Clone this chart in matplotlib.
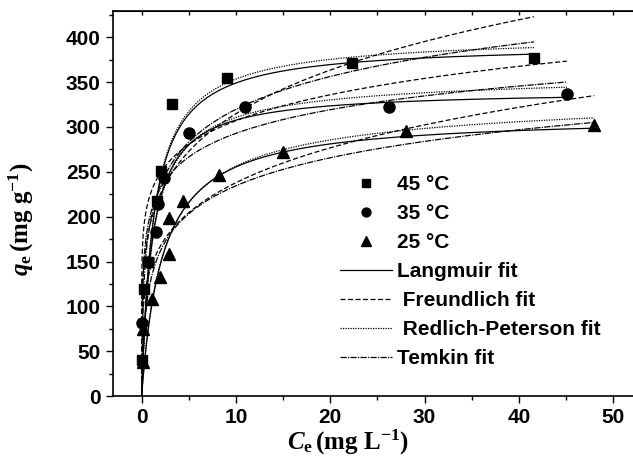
import numpy as np
import matplotlib
matplotlib.use("Agg")
import matplotlib.pyplot as plt
from matplotlib.ticker import MultipleLocator
from matplotlib.lines import Line2D

plt.rcParams["font.family"] = ["Liberation Sans", "DejaVu Sans"]
plt.rcParams["mathtext.fontset"] = "custom"
plt.rcParams["mathtext.rm"] = "Liberation Serif:bold"
plt.rcParams["mathtext.it"] = "Liberation Serif:italic:bold"
plt.rcParams["mathtext.bf"] = "Liberation Serif:bold"

# measured points (Ce, qe)
ce_45 = [0.05, 0.24, 0.7, 1.6, 2.05, 3.18, 9.1, 22.3, 41.6]
qe_45 = [40, 120, 150, 217, 251, 326, 355, 371, 377]
ce_35 = [0.05, 0.7, 1.5, 1.7, 2.4, 5.0, 11.0, 26.2, 45.1]
qe_35 = [82, 150, 183, 214, 243, 293, 322, 322, 337]
ce_25 = [0.1, 0.17, 1.06, 1.94, 2.9, 2.9, 4.4, 8.2, 15.0, 28.0, 48.0]
qe_25 = [38, 75, 108, 133, 159, 198, 217, 246, 272, 295, 302]

# fitted isotherm parameters, order 45, 35, 25 degC
lang_qm = [392.5, 341.0, 312.5]
lang_k = [0.80, 0.92, 0.447]
freu_kf = [195.4, 227.5, 144.0]
freu_inv_n = [0.207, 0.13, 0.218]
rp_k = [320.0, 310.0, 150.0]
rp_a = [0.815, 0.93, 0.52]
rp_g = [0.995, 0.985, 0.97]
tem_b = [52.7, 38.0, 45.0]
tem_a = [43.0, 222.0, 18.3]

SERIES = [(ce_45, qe_45, "s", 7, "45 °C"),
          (ce_35, qe_35, "o", 8, "35 °C"),
          (ce_25, qe_25, "^", 8.5, "25 °C")]
DASH = (0, (4, 2))
DOT = (0, (1, 1))
DASHDOT = (0, (5, 1, 1, 1))

fig = plt.figure(figsize=(6.33, 4.75), dpi=100)
ax = fig.add_axes([0.178, 0.1657, 0.86, 0.811])

for i, (ce, qe, mk, ms, lab) in enumerate(SERIES):
    xmax = max(ce)
    c = np.concatenate([[0.0], np.geomspace(1e-3, xmax, 500)])
    ql = lang_qm[i] * lang_k[i] * c / (1 + lang_k[i] * c)
    qf = freu_kf[i] * c ** freu_inv_n[i]
    qr = rp_k[i] * c / (1 + rp_a[i] * c ** rp_g[i])
    ct = np.geomspace(min(ce), xmax, 500)
    qt = tem_b[i] * np.log(tem_a[i] * ct)
    ax.plot(c, ql, color="black", lw=0.9, ls="-")
    ax.plot(c, qf, color="black", lw=0.9, ls=DASH)
    ax.plot(c, qr, color="black", lw=0.9, ls=DOT)
    ax.plot(ct, qt, color="black", lw=0.9, ls=DASHDOT)
    ax.plot(ce, qe, ls="none", marker=mk, ms=ms, color="black")

ax.set_xlim(-3.07, 54.66)
ax.set_ylim(0, 429)
ax.xaxis.set_major_locator(MultipleLocator(10))
ax.xaxis.set_minor_locator(MultipleLocator(5))
ax.yaxis.set_major_locator(MultipleLocator(50))
ax.yaxis.set_minor_locator(MultipleLocator(25))
ax.tick_params(which="both", direction="out", width=1.0, top=False, right=False)
ax.tick_params(which="major", length=5, labelsize=15)
ax.tick_params(which="minor", length=3)
for lab in ax.get_xticklabels() + ax.get_yticklabels():
    lab.set_fontweight("bold")
for sp in ax.spines.values():
    sp.set_linewidth(1.2)
ax.spines["right"].set_visible(False)   # frame runs off the right edge
# small inward ticks along the top edge
top = ax.secondary_xaxis("top")
top.set_xticks(np.arange(0, 55, 5), labels=[])
top.tick_params(direction="in", length=3, width=1.0)

ax.set_xlabel(r"$C_{\mathrm{e}}\,$(mg L$^{\mathrm{-1}}$)", fontsize=18,
              fontfamily="Liberation Serif", fontweight="bold")
ax.set_ylabel(r"$q_{\mathrm{e}}\,$(mg g$^{\mathrm{-1}}$)", fontsize=18,
              fontfamily="Liberation Serif", fontweight="bold")
ax.xaxis.set_label_coords(0.432, -0.082)
ax.yaxis.set_label_coords(-0.14, 0.46)

handles = [Line2D([], [], ls="none", marker=mk, ms=ms * 0.8, color="black") for _, _, mk, ms, _ in SERIES]
labels = [s[4] for s in SERIES]
handles += [Line2D([], [], color="black", lw=0.9, ls="-"),
            Line2D([], [], color="black", lw=0.9, ls=DASH),
            Line2D([], [], color="black", lw=0.9, ls=DOT),
            Line2D([], [], color="black", lw=0.9, ls=DASHDOT)]
labels += ["Langmuir fit", " Freundlich fit", " Redlich-Peterson fit", "Temkin fit"]
leg = ax.legend(handles, labels, loc="upper left", bbox_to_anchor=(0.384, 0.623),
                frameon=False, handlelength=2.45, handletextpad=0.25, labelspacing=0.48,
                prop={"weight": "bold", "size": 15})

fig.savefig("out.png", dpi=100)
